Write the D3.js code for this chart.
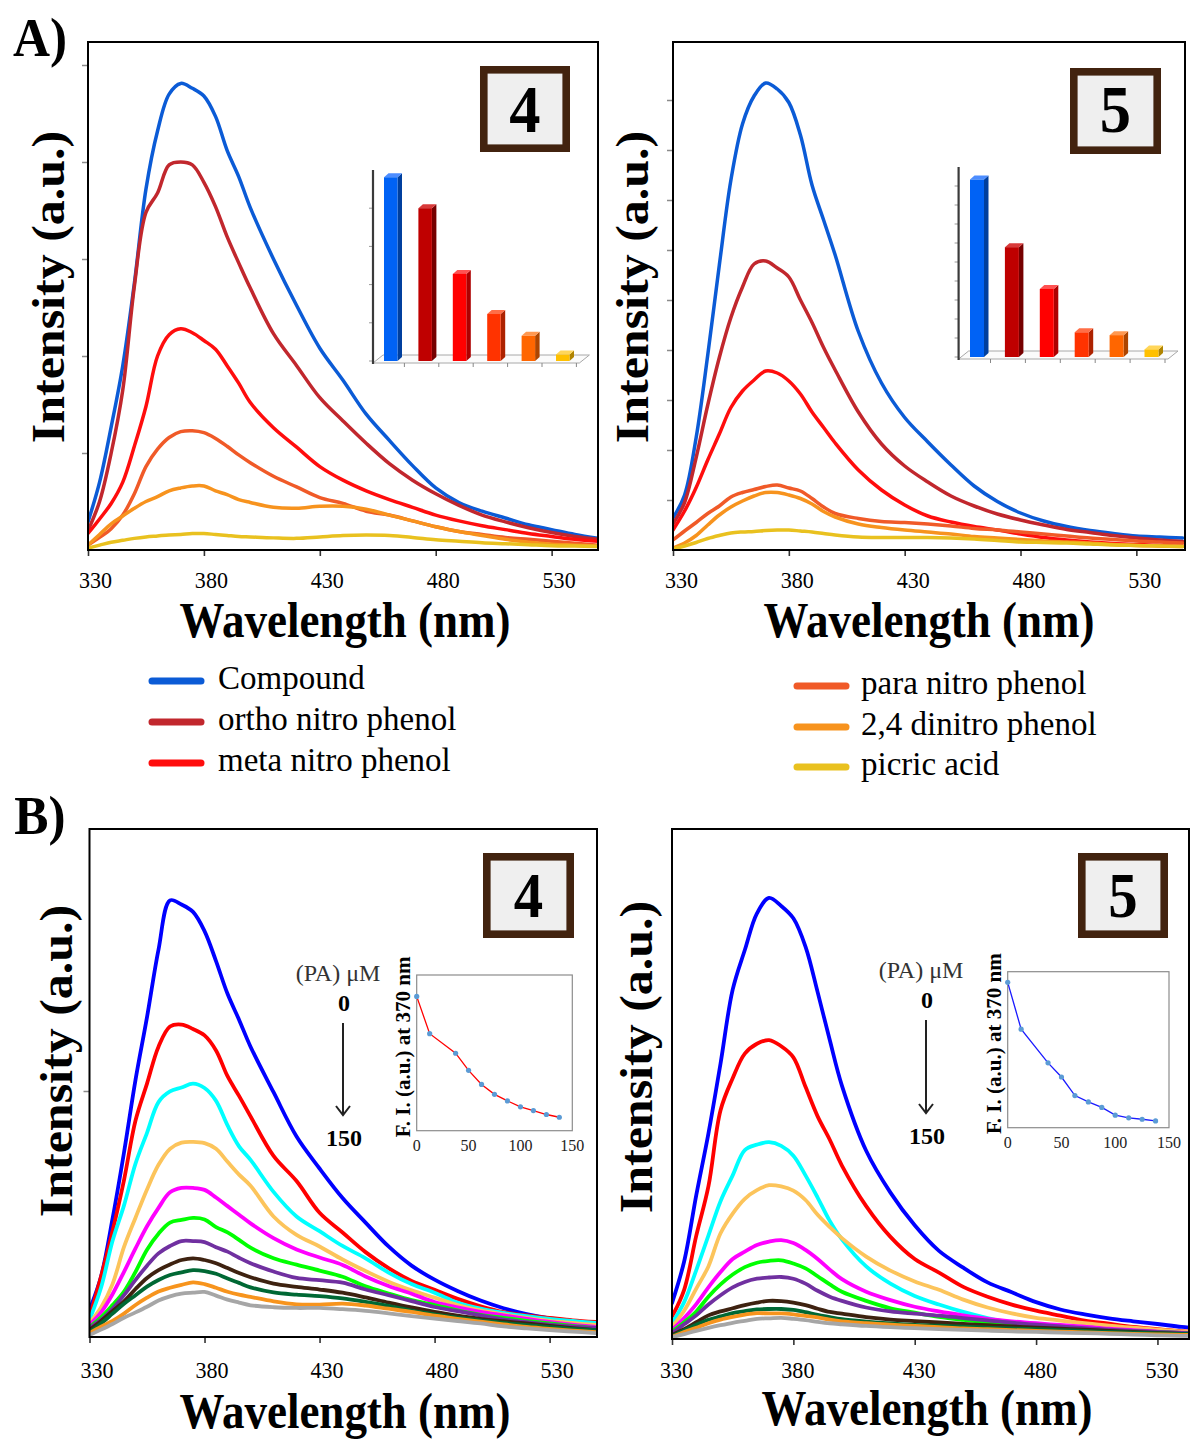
<!DOCTYPE html>
<html>
<head>
<meta charset="utf-8">
<script src="https://cdn.jsdelivr.net/npm/d3@7/dist/d3.min.js"></script>
<style>
html, body { margin: 0; padding: 0; background: #fff; }
svg { display: block; }
</style>
</head>
<body>
<svg id="fig" width="1190" height="1439" xmlns="http://www.w3.org/2000/svg"></svg>
<script>
// ---------- shared wavelength grid (nm) ----------
const wavelengths = [330,335,340,345,350,355,360,365,370,375,380,385,390,395,400,410,420,430,440,450,460,470,480,490,500,510,520,530,540,550];
const xTickValues = [330, 380, 430, 480, 530];

// ---------- panel A: analytes ----------
const analytes = ["Compound", "ortho nitro phenol", "meta nitro phenol", "para nitro phenol", "2,4 dinitro phenol", "picric acid"];
const analyteColors = ["#0b5bd6", "#c1272d", "#ff0d0d", "#f05a28", "#f7931e", "#e9c11f"];
const barFront = ["#0062f5", "#bf0000", "#ff0000", "#ff3300", "#ff6600", "#ffc000"];
const barSide  = ["#003f9e", "#760000", "#ad0000", "#ad2200", "#ad4500", "#b08400"];
const barTop   = ["#4d8dff", "#d83a3a", "#ff5252", "#ff6e47", "#ff9850", "#ffd65a"];

// complex 4, emission spectra (a.u.)
const a4Compound = [29,70,127,190,275,372,432,470,481,476,468,447,412,385,353,300,252,208,175,140,113,87,64,49,40,33,26,21,16,12];
const a4Ortho    = [20,50,100,165,272,348,368,397,400,397,379,354,323,296,270,223,190,157,133,110,89,72,58,46,36,29,23,18,14,11];
const a4Meta     = [17,32,48,70,107,148,200,222,228,224,216,207,190,172,152,126,106,86,72,61,52,44,36,30,25,21,17,14,11,9];
const a4Para     = [5,13,22,36,58,86,104,116,122,123,121,115,107,98,90,76,65,54,48,40,36,30,24,19,16,13,11,9,7,5];
const a4Dnp      = [5,16,27,35,43,50,55,61,64,66,66,61,57,52,49,44,43,45,45,42,36,30,24,19,15,11,8,6,5,4];
const a4Pa       = [2,5,8,10,12,13.5,14.5,15.5,16,17,17,16,15,14,13.5,12.5,12,13.5,15,15.5,15,13,10.5,9,7.5,6.5,5.5,4.5,4,3.5];
const a4YTicks = [100, 200, 300, 400, 500];
const a4BarTicks = [0, 100, 200, 300, 400];

// complex 5, emission spectra (a.u.)
const a5Compound = [64,110,225,390,570,740,852,908,934,922,895,830,730,660,590,437,334,265,216,170,128,97,74,58,47,39,33,28,26,24];
const a5Ortho    = [52,95,185,290,385,465,526,572,578,564,546,500,455,405,360,276,212,168,136,108,88,72,60,50,41,35,29,24,20,17];
const a5Meta     = [40,78,125,180,232,285,318,340,358,354,338,312,276,245,214,160,120,90,68,56,47,40,32,25,20,16,13,11,9,8];
const a5Para     = [20,38,55,73,88,106,115,121,127,130,124,118,103,86,73,63,57,55,52,48,43,40,36,32,28,24,21,18,16,14];
const a5Dnp      = [4,14,29,50,70,86,98,108,115,115,110,103,92,77,66,52,45,40,36,32,27,24,21,18,16,14,11,9,8,7];
const a5Pa       = [2,8,15,23,29,34,36,37,39,40,40,38,36,33,30,26,25,25,25,24,22,19,16,15,14,12,10,9,8,7];
const a5YTicks = [100, 200, 300, 400, 500, 600, 700, 800, 900];
const a5BarTicks = [0, 100, 200, 300, 400, 500, 600, 700, 800, 900];

// ---------- panel B: titration with picric acid ----------
const paConcentrations = [0, 12.5, 37.5, 50, 62.5, 75, 87.5, 100, 112.5, 125, 137.5];
const paColors = ["#0000ff", "#ff0000", "#00ffff", "#fcc45b", "#ff00ff", "#00ff00", "#7030a0", "#3e2210", "#006834", "#f7941d", "#a6a6a6"];

const b4Pa0   = [110,245,480,750,1045,1300,1575,1775,1758,1728,1650,1528,1395,1290,1180,995,815,685,565,465,368,290,233,187,148,117,93,76,65,57];
const b4Pa12  = [81,245,430,638,880,1030,1180,1262,1270,1252,1226,1165,1060,980,897,736,634,505,425,345,280,228,192,155,125,101,88,78,68,61];
const b4Pa37  = [69,200,390,535,705,830,955,998,1014,1030,1012,960,860,775,720,590,490,430,370,320,262,215,180,140,115,98,85,74,65,57];
const b4Pa50  = [57,120,215,366,485,600,700,765,790,793,788,765,712,660,615,490,415,368,315,268,225,190,160,130,108,92,78,66,57,49];
const b4Pa62  = [49,100,174,265,360,450,525,588,606,606,598,567,532,497,462,402,356,323,293,246,207,176,142,120,102,88,74,61,50,41];
const b4Pa75  = [41,80,130,185,265,355,420,465,476,484,478,447,425,395,363,320,294,270,245,206,177,150,130,108,90,78,66,55,45,37];
const b4Pa87  = [37,70,115,170,232,290,340,370,390,390,386,365,347,322,300,266,240,231,221,193,170,146,122,105,88,72,60,50,42,37];
const b4Pa100 = [28,65,105,145,195,240,272,295,313,320,313,300,280,260,243,217,204,193,180,161,140,120,102,87,74,64,55,45,36,28];
const b4Pa112 = [20,55,95,135,170,205,232,252,263,272,268,257,238,220,202,181,172,166,157,143,127,107,92,79,68,57,48,40,33,28];
const b4Pa125 = [16,42,65,95,130,160,185,200,212,222,215,200,184,172,163,145,133,132,136,128,115,102,87,74,62,51,41,33,26,20];
const b4Pa137 = [8,30,53,78,100,123,148,165,176,180,183,168,152,140,129,121,118,118,113,106,96,85,75,65,55,43,35,28,22,16];
const b4YTicks = [1000];

const b5Pa0   = [146,315,585,835,1120,1420,1581,1730,1793,1760,1710,1595,1410,1215,1030,765,595,462,358,290,230,190,150,120,100,84,72,61,49,40];
const b5Pa12  = [91,200,420,620,930,1060,1160,1200,1215,1190,1145,1025,905,810,705,540,415,325,270,212,172,140,115,95,75,62,49,40,32,26];
const b5Pa37  = [64,150,280,420,560,665,768,790,800,785,745,665,575,480,405,295,225,175,140,110,85,66,55,46,40,35,31,28,25,22];
const b5Pa50  = [50,115,205,295,430,510,570,605,625,620,603,565,505,455,410,335,278,234,200,160,128,104,86,75,64,54,46,38,31,26];
const b5Pa62  = [37,85,142,210,272,325,355,382,396,402,390,362,325,282,243,192,158,131,112,96,82,72,64,57,50,42,36,30,26,22];
const b5Pa75  = [30,68,112,172,222,262,292,310,318,320,307,287,255,222,192,155,125,107,90,78,68,60,53,46,40,35,31,28,25,22];
const b5Pa87  = [24,60,96,140,178,210,232,245,250,252,245,225,196,172,155,128,112,103,95,85,76,66,58,51,44,38,33,29,25,22];
const b5Pa100 = [16,40,68,96,112,125,138,148,155,154,148,138,123,110,103,89,79,73,67,61,56,51,46,42,38,33,29,25,21,18];
const b5Pa112 = [12,35,58,78,92,105,113,120,122,122,118,109,98,89,81,71,63,57,54,50,46,43,40,36,33,29,26,23,21,19];
const b5Pa125 = [9,28,46,64,79,90,99,105,104,104,100,94,88,79,72,64,58,53,48,43,40,36,33,30,27,24,21,19,17,15];
const b5Pa137 = [7,20,33,45,56,66,74,82,84,86,82,77,70,64,60,53,48,44,40,37,34,31,29,26,24,21,18,15,13,11];
const b5YTicks = [];

const insetXTicks = [0, 50, 100, 150];
const insetTitle = "F. I. (a.u.) at 370 nm";

// ---------- helpers ----------
const FONT = "'Liberation Serif','Times New Roman',Times,serif";
const svg = d3.select("#fig");

function label(parent, str, x, y, o = {}) {
  const sx = o.sx || 1, sy = o.sy || 1, rot = o.rot || 0;
  return parent.append("text")
    .attr("transform", `translate(${x},${y}) rotate(${rot}) scale(${sx},${sy})`)
    .attr("text-anchor", o.anchor || "middle")
    .attr("font-family", FONT)
    .attr("font-size", o.size || 20)
    .attr("font-weight", o.weight || "normal")
    .attr("fill", o.fill || "#000")
    .text(str);
}

// spectra panel with frame, ticks and titles
function spectraPanel(p) {
  const x = d3.scaleLinear().domain(p.xDomain).range([p.x0, p.x1]);
  const y = d3.scaleLinear().domain(p.yDomain).range([p.y1, p.y0]);
  const g = svg.append("g");

  g.append("clipPath").attr("id", p.id)
    .append("rect").attr("x", p.x0).attr("y", p.y0)
    .attr("width", p.x1 - p.x0).attr("height", p.y1 - p.y0);

  const line = d3.line()
    .x((d, i) => x(wavelengths[i]))
    .y(d => y(d))
    .curve(d3.curveCatmullRom.alpha(0.5));

  g.append("g").attr("clip-path", `url(#${p.id})`)
    .selectAll("path").data(p.series).join("path")
    .attr("d", d => line(d.values))
    .attr("fill", "none")
    .attr("stroke", d => d.color)
    .attr("stroke-width", p.lw)
    .attr("stroke-linejoin", "round")
    .attr("stroke-linecap", "round");

  // x axis ticks
  const xa = g.append("g").attr("transform", `translate(0,${p.y1})`)
    .call(d3.axisBottom(x).tickValues(xTickValues).tickSize(6).tickSizeOuter(0).tickFormat(d3.format("d")));
  xa.select(".domain").remove();
  xa.selectAll(".tick line").attr("stroke", "#333").attr("stroke-width", 1.6);
  xa.selectAll(".tick text")
    .attr("font-family", FONT).attr("font-size", 24).attr("fill", "#000")
    .attr("y", p.tickBaseline - p.y1).attr("dy", 0)
    .attr("transform", `translate(${p.tickDx},0) scale(0.92,1)`);

  // y axis ticks
  const ya = g.append("g").attr("transform", `translate(${p.x0},0)`)
    .call(d3.axisLeft(y).tickValues(p.yTicks).tickSize(6).tickSizeOuter(0).tickFormat(""));
  ya.select(".domain").remove();
  ya.selectAll(".tick line").attr("stroke", "#8a8a8a").attr("stroke-width", 1.5);

  // frame
  g.append("rect").attr("x", p.x0).attr("y", p.y0)
    .attr("width", p.x1 - p.x0).attr("height", p.y1 - p.y0)
    .attr("fill", "none").attr("stroke", "#000").attr("stroke-width", 2);

  // titles
  label(g, "Wavelength (nm)", p.xTitle[0], p.xTitle[1], { size: 50, weight: "bold", sx: 0.9 });
  label(g, "Intensity (a.u.)", p.yTitle[0], p.yTitle[1], { size: 50, weight: "bold", rot: -90, sy: 0.92 });
  return { x, y, g };
}

// framed complex number badge
function badge(x0, y0, w, h, str, size, baseline) {
  const b = 7.6;
  svg.append("rect").attr("x", x0 + b / 2).attr("y", y0 + b / 2)
    .attr("width", w - b).attr("height", h - b)
    .attr("fill", "#efefef").attr("stroke", "#42230f").attr("stroke-width", b);
  label(svg, str, x0 + w / 2, baseline, { size, weight: "bold", sx: 0.92 });
}

// 3-D style bar inset of peak intensities
function barInset(c) {
  const g = svg.append("g");
  const n = c.values.length;
  const y = d3.scaleLinear().domain([0, c.yMax]).range([c.base, c.top]);
  const xb = d3.scaleBand().domain(d3.range(n)).range([c.axisX, c.axisX + c.step * n]).padding(0);
  const right = c.axisX + c.step * n;
  const dx = 10, dz = 8;

  // floor
  g.append("path")
    .attr("d", `M${c.axisX},${c.floor} L${c.axisX + dx},${c.floor - dz} L${right + dx},${c.floor - dz} L${right},${c.floor} Z`)
    .attr("fill", "#fbfbfb").attr("stroke", "#a8a8a8").attr("stroke-width", 1);
  // floor tick marks
  g.selectAll("line.ft").data(d3.range(1, n + 1)).join("line")
    .attr("x1", i => c.axisX + c.step * i - 3).attr("x2", i => c.axisX + c.step * i - 3)
    .attr("y1", c.floor).attr("y2", c.floor + 4)
    .attr("stroke", "#888").attr("stroke-width", 1);
  // value ticks
  g.selectAll("line.vt").data(c.ticks).join("line")
    .attr("x1", c.axisX - 4).attr("x2", c.axisX)
    .attr("y1", d => y(d)).attr("y2", d => y(d))
    .attr("stroke", "#999").attr("stroke-width", 1);
  // axis
  g.append("line").attr("x1", c.axisX).attr("x2", c.axisX)
    .attr("y1", y(c.yMax)).attr("y2", c.floor + 1)
    .attr("stroke", "#3a3a3a").attr("stroke-width", 2.2);

  const bw = c.barW, sd = 4.5, dp = 4;
  const bars = g.selectAll("g.bar").data(c.values).join("g");
  bars.append("path") // side face
    .attr("d", (d, i) => {
      const x = xb(i) + c.offset + bw, t = y(d);
      return `M${x},${t} L${x + sd},${t - dp} L${x + sd},${c.base - dp} L${x},${c.base} Z`;
    })
    .attr("fill", (d, i) => barSide[i]);
  bars.append("path") // top face
    .attr("d", (d, i) => {
      const x = xb(i) + c.offset, t = y(d);
      return `M${x},${t} L${x + sd},${t - dp} L${x + bw + sd},${t - dp} L${x + bw},${t} Z`;
    })
    .attr("fill", (d, i) => barTop[i]);
  bars.append("rect") // front face
    .attr("x", (d, i) => xb(i) + c.offset)
    .attr("y", d => y(d))
    .attr("width", bw)
    .attr("height", d => c.base - y(d))
    .attr("fill", (d, i) => barFront[i]);
}

// fluorescence-at-370 nm vs concentration inset
function fiInset(c) {
  const g = svg.append("g");
  const x = d3.scaleLinear().domain([0, 150]).range([c.x0, c.x1]);
  const y = d3.scaleLinear().domain([0, c.yMax]).range([c.y1, c.y0]);
  g.append("rect").attr("x", c.x0).attr("y", c.y0)
    .attr("width", c.x1 - c.x0).attr("height", c.y1 - c.y0)
    .attr("fill", "#fff").attr("stroke", "#8c8c8c").attr("stroke-width", 1.2);
  const pts = paConcentrations.map((v, i) => [v, c.values[i]]);
  g.append("path").attr("d", d3.line().x(d => x(d[0])).y(d => y(d[1]))(pts))
    .attr("fill", "none").attr("stroke", c.color).attr("stroke-width", 1.3);
  g.selectAll("circle").data(pts).join("circle")
    .attr("cx", d => x(d[0])).attr("cy", d => y(d[1])).attr("r", 2.6)
    .attr("fill", "#5b9bd5");
  insetXTicks.forEach(t => label(g, String(t), x(t), c.y1 + 20, { size: 16, fill: "#222" }));
  label(g, insetTitle, c.x0 - 7, (c.y0 + c.y1) / 2 - 6, { size: 21, weight: "bold", rot: -90 });

  // concentration arrow
  label(g, "(PA) \u03BCM", c.ax - 5, c.ay0 - 31, { size: 24, fill: "#333" });
  label(g, "0", c.ax + 1, c.ay0 - 1, { size: 24, weight: "bold" });
  g.append("line").attr("x1", c.ax).attr("x2", c.ax).attr("y1", c.ay0 + 11).attr("y2", c.ay1)
    .attr("stroke", "#222").attr("stroke-width", 2);
  g.append("path").attr("d", `M${c.ax - 7},${c.ay1 - 9} L${c.ax},${c.ay1} L${c.ax + 7},${c.ay1 - 9}`)
    .attr("fill", "none").attr("stroke", "#222").attr("stroke-width", 2);
  label(g, "150", c.ax + 1, c.ay1 + 31, { size: 24, weight: "bold" });
}

// ---------- panel A ----------
label(svg, "A)", 40, 56, { size: 54, weight: "bold", sx: 0.95 });
label(svg, "B)", 40, 834, { size: 54, weight: "bold", sx: 0.95 });

const a4Series = [a4Compound, a4Ortho, a4Meta, a4Para, a4Dnp, a4Pa];
const a5Series = [a5Compound, a5Ortho, a5Meta, a5Para, a5Dnp, a5Pa];

spectraPanel({
  id: "clipA4", x0: 88, x1: 598, y0: 42, y1: 550,
  xDomain: [330, 550], yDomain: [0, 523.7], yTicks: a4YTicks,
  series: a4Series.map((v, i) => ({ values: v, color: analyteColors[i] })),
  lw: 3.5, tickDx: 7, tickBaseline: 588, xTitle: [345, 637], yTitle: [64, 287]
});
spectraPanel({
  id: "clipA5", x0: 673, x1: 1185, y0: 42, y1: 550,
  xDomain: [330, 551], yDomain: [0, 1016], yTicks: a5YTicks,
  series: a5Series.map((v, i) => ({ values: v, color: analyteColors[i] })),
  lw: 3.5, tickDx: 8, tickBaseline: 588, xTitle: [929, 637], yTitle: [648, 287]
});

badge(480, 66, 90, 86, "4", 68, 132);
badge(1070, 68, 91, 86, "5", 68, 132);

barInset({
  values: a4Series.map(s => d3.max(s)), yMax: 500, ticks: a4BarTicks,
  axisX: 373, base: 361, top: 361 - 500 * 0.382, floor: 363,
  step: 34.4, offset: 11, barW: 13.5
});
barInset({
  values: a5Series.map(s => d3.max(s)), yMax: 1000, ticks: a5BarTicks,
  axisX: 958.6, base: 357, top: 357 - 1000 * 0.19, floor: 359,
  step: 34.9, offset: 11.4, barW: 14
});

// legend
const legend = svg.append("g");
const legendPos = [[149, 681], [149, 722], [149, 763], [794, 686], [794, 727], [794, 767]];
analytes.forEach((name, i) => {
  const [lx, ly] = legendPos[i];
  legend.append("line").attr("x1", lx + 3).attr("x2", lx + 52).attr("y1", ly).attr("y2", ly)
    .attr("stroke", analyteColors[i]).attr("stroke-width", 7).attr("stroke-linecap", "round");
  label(legend, name, lx + (i < 3 ? 69 : 67), ly + 8, { size: 33, anchor: "start" });
});

// ---------- panel B ----------
const b4Series = [b4Pa0, b4Pa12, b4Pa37, b4Pa50, b4Pa62, b4Pa75, b4Pa87, b4Pa100, b4Pa112, b4Pa125, b4Pa137];
const b5Series = [b5Pa0, b5Pa12, b5Pa37, b5Pa50, b5Pa62, b5Pa75, b5Pa87, b5Pa100, b5Pa112, b5Pa125, b5Pa137];
const i370 = wavelengths.indexOf(370);

spectraPanel({
  id: "clipB4", x0: 89.5, x1: 597, y0: 829, y1: 1337,
  xDomain: [330, 550.6], yDomain: [0, 2065], yTicks: b4YTicks,
  series: b4Series.map((v, i) => ({ values: v, color: paColors[i] })),
  lw: 3.8, tickDx: 7, tickBaseline: 1378, xTitle: [345, 1428], yTitle: [72, 1061]
});
spectraPanel({
  id: "clipB5", x0: 672, x1: 1189, y0: 829, y1: 1339,
  xDomain: [330, 543], yDomain: [0, 2073], yTicks: b5YTicks,
  series: b5Series.map((v, i) => ({ values: v, color: paColors[i] })),
  lw: 3.8, tickDx: 4, tickBaseline: 1378, xTitle: [927, 1425], yTitle: [652, 1057]
});

badge(483, 853, 91, 85, "4", 64, 917);
badge(1078, 853, 90, 85, "5", 64, 917);

fiInset({
  x0: 416.7, x1: 572.3, y0: 975, y1: 1130.7, yMax: 2038, color: "#ff0000",
  values: b4Series.map(s => s[i370]), ax: 343, ay0: 1012, ay1: 1115
});
fiInset({
  x0: 1007.7, x1: 1169, y0: 971.7, y1: 1127.7, yMax: 1924, color: "#1a1aff",
  values: b5Series.map(s => s[i370]), ax: 926, ay0: 1009, ay1: 1113
});
</script>
</body>
</html>
